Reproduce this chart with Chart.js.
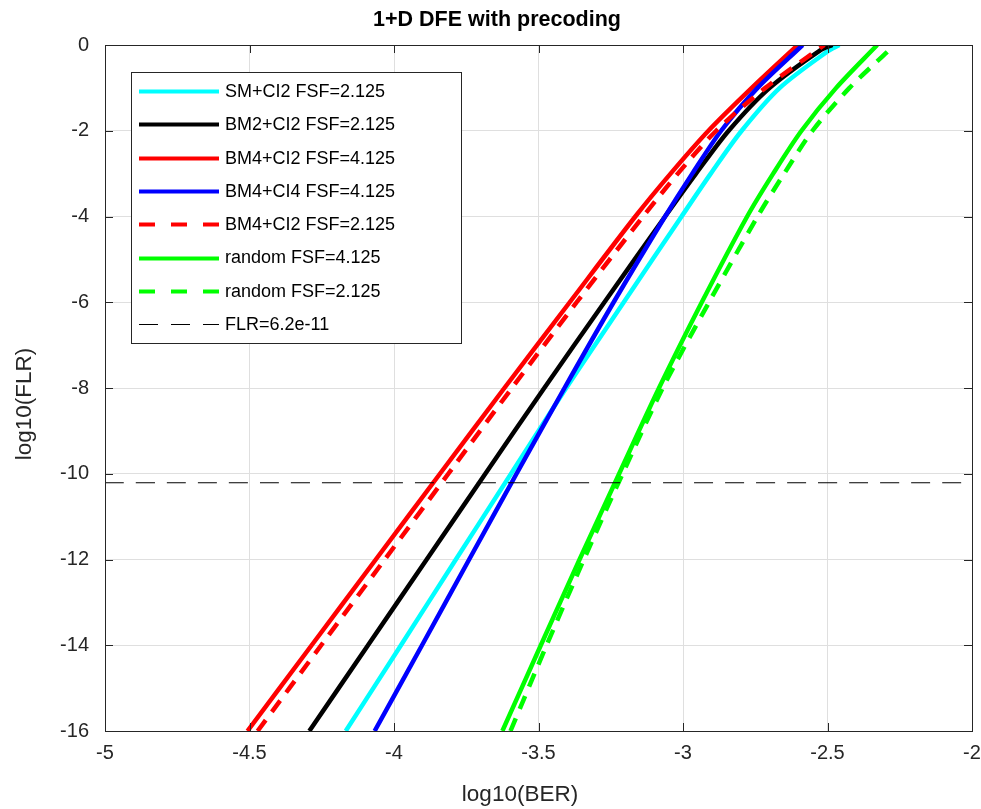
<!DOCTYPE html>
<html>
<head>
<meta charset="utf-8">
<script src="https://cdn.jsdelivr.net/npm/chart.js@4.4.0/dist/chart.umd.min.js"></script>
<style>
  html, body { margin: 0; padding: 0; background: #fff; }
</style>
</head>
<body>
<canvas id="myChart" width="981" height="809"></canvas>
<script>
// values: log10(BER) on x, log10(FLR) on y
const levels = [-16, -14, -12, -10, -8, -6, -4, -3, -2, -1, 0];

const smCi2X   = [-4.167, -3.976, -3.786, -3.595, -3.404, -3.205, -3.005, -2.904, -2.797, -2.665, -2.500, -2.459];
const smCi2Y   = [-16, -14, -12, -10, -8, -6, -4, -3, -2, -1, -0.15, 0];
const bm2Ci2X  = [-4.293, -4.090, -3.887, -3.684, -3.480, -3.272, -3.062, -2.955, -2.842, -2.700, -2.524, -2.483];
const bm2Ci2Y  = [-16, -14, -12, -10, -8, -6, -4, -3, -2, -1, -0.12, 0];
const bm4Ci2X  = [-4.507, -4.285, -4.063, -3.841, -3.618, -3.392, -3.165, -3.043, -2.912, -2.762, -2.603];
const bm4Ci4X  = [-4.067, -3.903, -3.740, -3.576, -3.410, -3.240, -3.062, -2.968, -2.868, -2.742, -2.586];
const bm4Ci2bX = [-4.472, -4.252, -4.032, -3.812, -3.592, -3.368, -3.138, -3.018, -2.885, -2.715, -2.511];
const rand4X   = [-3.625, -3.492, -3.358, -3.221, -3.083, -2.935, -2.778, -2.688, -2.590, -2.470, -2.328];
const rand2X   = [-3.597, -3.472, -3.343, -3.209, -3.070, -2.910, -2.742, -2.650, -2.552, -2.424, -2.293];
const rand2Y   = [-16, -14, -12, -10, -8, -6, -4, -3, -2, -1, -0.16];

const flrX = [-5, -2];
const flrY = [-10.21, -10.21];

const xTicks = [-5, -4.5, -4, -3.5, -3, -2.5, -2];
const yTicks = [0, -2, -4, -6, -8, -10, -12, -14, -16];

function pts(xs, ys) {
    return xs.map((x, i) => ({ x: x, y: ys[i] }));
}

const series = [
    { label: 'SM+CI2 FSF=2.125',  data: pts(smCi2X, smCi2Y),   color: '#00ffff', width: 4.5, dash: [] },
    { label: 'BM2+CI2 FSF=2.125', data: pts(bm2Ci2X, bm2Ci2Y), color: '#000000', width: 4.5, dash: [] },
    { label: 'BM4+CI2 FSF=4.125', data: pts(bm4Ci2X, levels),  color: '#ff0000', width: 4.5, dash: [] },
    { label: 'BM4+CI4 FSF=4.125', data: pts(bm4Ci4X, levels),  color: '#0000ff', width: 4.5, dash: [] },
    { label: 'BM4+CI2 FSF=2.125', data: pts(bm4Ci2bX, levels), color: '#ff0000', width: 4.5, dash: [14, 10] },
    { label: 'random FSF=4.125',  data: pts(rand4X, levels),   color: '#00ff00', width: 4.5, dash: [] },
    { label: 'random FSF=2.125',  data: pts(rand2X, rand2Y),   color: '#00ff00', width: 4.5, dash: [14, 10] },
    { label: 'FLR=6.2e-11',       data: pts(flrX, flrY),       color: '#000000', width: 1,   dash: [19, 12] }
];

const datasets = series.map((s, i) => ({
    label: s.label,
    data: s.data,
    showLine: true,
    borderColor: s.color,
    backgroundColor: s.color,
    borderWidth: s.width,
    borderDash: s.dash,
    pointRadius: 0,
    tension: 0.3,
    order: series.length - i   // later series on top, like matlab
}));

const axisColor = '#262626';
const font = 'Liberation Sans, Arial, Helvetica, sans-serif';

// box round the axes, inward ticks, titles and the legend inside the plot
const matlabAxes = {
    id: 'matlabAxes',
    afterDraw(chart) {
        const ctx = chart.ctx;
        const a = chart.chartArea;
        const xs = chart.scales.x, ys = chart.scales.y;
        ctx.save();
        ctx.strokeStyle = axisColor;
        ctx.lineWidth = 1;
        ctx.setLineDash([]);
        ctx.beginPath();
        xTicks.forEach(v => {
            const px = Math.round(xs.getPixelForValue(v)) + 0.5;
            ctx.moveTo(px, a.bottom); ctx.lineTo(px, a.bottom - 8);
            ctx.moveTo(px, a.top); ctx.lineTo(px, a.top + 8);
        });
        yTicks.forEach(v => {
            const py = Math.round(ys.getPixelForValue(v)) + 0.5;
            ctx.moveTo(a.left, py); ctx.lineTo(a.left + 8, py);
            ctx.moveTo(a.right, py); ctx.lineTo(a.right - 8, py);
        });
        ctx.stroke();
        ctx.strokeRect(Math.round(a.left) + 0.5, Math.round(a.top) + 0.5,
            Math.round(a.right - a.left), Math.round(a.bottom - a.top));

        // titles
        ctx.textAlign = 'center';
        ctx.textBaseline = 'middle';
        ctx.fillStyle = '#000';
        ctx.font = 'bold 21.5px ' + font;
        ctx.fillText('1+D DFE with precoding', 497, 20);
        ctx.fillStyle = axisColor;
        ctx.font = '22.5px ' + font;
        ctx.fillText('log10(BER)', 520, 795);
        ctx.save();
        ctx.translate(25, 404);
        ctx.rotate(-Math.PI / 2);
        ctx.fillText('log10(FLR)', 0, 0);
        ctx.restore();

        // legend
        const lx = 131, ly = 72, lw = 330, lh = 271;
        ctx.fillStyle = '#fff';
        ctx.fillRect(lx, ly, lw, lh);
        ctx.strokeStyle = axisColor;
        ctx.strokeRect(lx + 0.5, ly + 0.5, lw, lh);
        ctx.font = '18px ' + font;
        ctx.textAlign = 'left';
        chart.data.datasets.forEach((d, i) => {
            const y = 91 + i * 33.3;
            ctx.strokeStyle = d.borderColor;
            ctx.lineWidth = d.borderWidth === 1 ? 1 : 4;
            ctx.setLineDash(d.borderWidth === 1 ? [19, 13] : (d.borderDash.length ? [16, 16] : []));
            ctx.beginPath();
            ctx.moveTo(139, Math.round(y) + 0.5);
            ctx.lineTo(219, Math.round(y) + 0.5);
            ctx.stroke();
            ctx.fillStyle = '#000';
            ctx.fillText(d.label, 225, y + 1);
        });
        ctx.restore();
    }
};

const config = {
    type: 'scatter',
    data: { datasets: datasets },
    options: {
        responsive: false,
        animation: false,
        layout: { padding: { left: 0, right: 0, top: 45, bottom: 0 } },
        plugins: {
            legend: { display: false },
            tooltip: { enabled: false },
            title: { display: false }
        },
        scales: {
            x: {
                type: 'linear',
                min: -5, max: -2,
                afterBuildTicks: s => { s.ticks = xTicks.map(v => ({ value: v })); },
                afterFit: s => { s.height = 78; s.paddingRight = 9; },
                border: { display: false },
                grid: { color: '#dfdfdf', drawTicks: false },
                ticks: {
                    color: axisColor, padding: 10,
                    font: { family: font, size: 20 },
                    callback: v => String(v)
                }
            },
            y: {
                type: 'linear',
                min: -16, max: 0,
                afterBuildTicks: s => { s.ticks = yTicks.map(v => ({ value: v })); },
                afterFit: s => { s.width = 105; },
                border: { display: false },
                grid: { color: '#dfdfdf', drawTicks: false },
                ticks: {
                    color: axisColor, padding: 16,
                    font: { family: font, size: 20 },
                    callback: v => String(v)
                }
            }
        }
    },
    plugins: [matlabAxes]
};

const ctx = document.getElementById('myChart');
let myChart = new Chart(ctx, config);
</script>
</body>
</html>
